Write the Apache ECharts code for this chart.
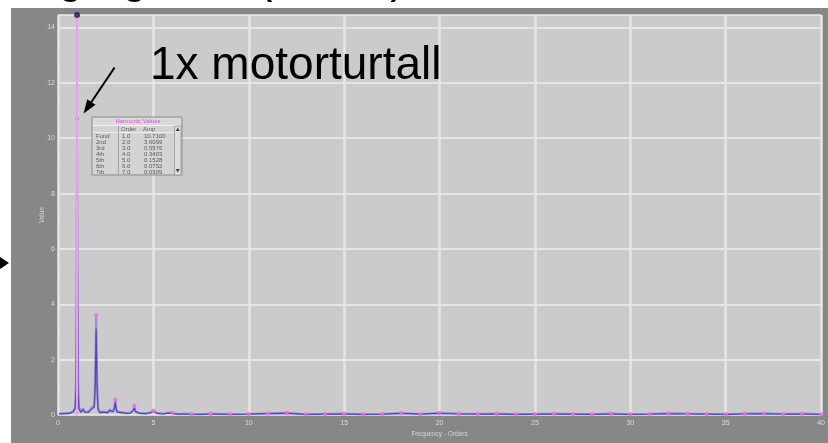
<!DOCTYPE html>
<html>
<head>
<meta charset="utf-8">
<script src="https://cdn.jsdelivr.net/npm/echarts@6/dist/echarts.min.js"></script>
<style>
  html, body { margin: 0; padding: 0; background: #ffffff; }
  #chart { width: 828px; height: 443px; }
</style>
</head>
<body>
<div id="chart"></div>
<script>
// ---- Harmonic table (orders and amplitudes shown in the "Harmonic Values" box) ----
const HARMONIC_NAMES = ['Fund', '2nd', '3rd', '4th', '5th', '6th', '7th'];
const HARMONIC_ORDERS = [1, 2, 3, 4, 5, 6, 7, 8, 9, 10, 11, 12, 13, 14, 15, 16, 17, 18, 19, 20,
  21, 22, 23, 24, 25, 26, 27, 28, 29, 30, 31, 32, 33, 34, 35, 36, 37, 38, 39, 40];
const HARMONIC_AMPS = [10.71, 3.6099, 0.5576, 0.3403, 0.1528, 0.0752, 0.0309, 0.05, 0.03, 0.04,
  0.06, 0.08, 0.03, 0.04, 0.05, 0.03, 0.04, 0.07, 0.04, 0.08,
  0.05, 0.04, 0.05, 0.03, 0.04, 0.05, 0.04, 0.03, 0.05, 0.03,
  0.04, 0.06, 0.05, 0.04, 0.03, 0.05, 0.06, 0.04, 0.05, 0.03];

// ---- Spectrum traces (frequency in orders) ----
const SPECTRUM_ORDERS = [0.05, 0.3, 0.6, 0.8, 0.9, 0.95, 1.0, 1.05, 1.1, 1.2,
  1.3, 1.4, 1.5, 1.6, 1.7, 1.8, 1.9, 1.95, 2.0, 2.05,
  2.1, 2.2, 2.4, 2.6, 2.7, 2.8, 2.9, 2.95, 3.0, 3.05,
  3.1, 3.2, 3.4, 3.6, 3.8, 3.9, 3.95, 4.0, 4.05, 4.1,
  4.3, 4.6, 4.8, 5.0, 5.2, 5.5, 5.8, 6.0, 6.3, 6.7,
  7.0, 7.5, 8.0, 9, 10, 11, 12, 13, 14, 15,
  16, 17, 18, 19, 20, 21, 22, 23, 24, 25,
  26, 27, 28, 29, 30, 31, 32, 33, 34, 35,
  36, 37, 38, 39, 40];
const SPECTRUM_UPPER = [0.05, 0.06, 0.07, 0.14, 0.3, 1.3, 9.4, 1.1, 0.28, 0.12,
  0.24, 0.13, 0.18, 0.12, 0.22, 0.16, 0.35, 1.4, 3.56, 1.2,
  0.25, 0.1, 0.13, 0.1, 0.2, 0.12, 0.14, 0.25, 0.56, 0.24,
  0.13, 0.08, 0.1, 0.07, 0.09, 0.12, 0.2, 0.34, 0.18, 0.1,
  0.07, 0.06, 0.09, 0.15, 0.07, 0.05, 0.09, 0.075, 0.04, 0.05,
  0.035, 0.03, 0.05, 0.03, 0.04, 0.06, 0.08, 0.03, 0.04, 0.05,
  0.03, 0.04, 0.07, 0.04, 0.08, 0.05, 0.04, 0.05, 0.03, 0.04,
  0.05, 0.04, 0.03, 0.05, 0.03, 0.04, 0.06, 0.05, 0.04, 0.03,
  0.05, 0.06, 0.04, 0.05, 0.03];
const SPECTRUM_LOWER = [0.04, 0.05, 0.06, 0.12, 0.25, 0.9, 8.0, 0.8, 0.22, 0.1,
  0.2, 0.11, 0.15, 0.1, 0.18, 0.13, 0.28, 1.0, 3.12, 0.9,
  0.2, 0.08, 0.11, 0.08, 0.17, 0.1, 0.12, 0.2, 0.46, 0.2,
  0.11, 0.07, 0.08, 0.06, 0.07, 0.1, 0.16, 0.26, 0.14, 0.08,
  0.06, 0.05, 0.07, 0.12, 0.06, 0.04, 0.07, 0.06, 0.035, 0.04,
  0.03, 0.025, 0.04, 0.025, 0.035, 0.05, 0.06, 0.025, 0.035, 0.04,
  0.025, 0.035, 0.06, 0.035, 0.06, 0.04, 0.035, 0.04, 0.025, 0.035,
  0.04, 0.035, 0.025, 0.04, 0.025, 0.035, 0.05, 0.04, 0.035, 0.025,
  0.04, 0.05, 0.035, 0.04, 0.025];

// ---- Axes ----
const X_MIN = 0, X_MAX = 40, X_STEP = 5;
const Y_MIN = 0, Y_MAX = 14.45, Y_STEP = 2;
const CURSOR_ORDER = 1;            // cursor placed on the 1x running speed

const TITLE_TEXT = 'Vibrasjonsmåling og vifte (aksial)';
const NOTE_TEXT = '1x motorturtall';

const FONT = '"Liberation Sans", Arial, sans-serif';

const chart = echarts.init(document.getElementById('chart'), null, { renderer: 'canvas' });

const pairs = (xs, ys) => xs.map((x, i) => [x, ys[i]]);

chart.setOption({
  animation: false,
  backgroundColor: '#878787',
  grid: {
    left: 58, right: 5, top: 15, bottom: 26,
    show: true, backgroundColor: '#cbcbcb', borderWidth: 0
  },
  xAxis: {
    type: 'value', min: X_MIN, max: X_MAX, interval: X_STEP,
    name: 'Frequency - Orders', nameLocation: 'middle', nameGap: 12,
    nameTextStyle: { color: '#d6d6d6', fontSize: 6.5, fontFamily: FONT },
    axisLine: { show: false },
    axisTick: { show: false },
    axisLabel: { color: '#dadada', fontSize: 7, fontFamily: FONT, margin: 4 },
    splitLine: { show: true, lineStyle: { color: '#e6e6e6', width: 2.5 } }
  },
  yAxis: {
    type: 'value', min: Y_MIN, max: Y_MAX, interval: Y_STEP,
    name: 'Value', nameLocation: 'middle', nameGap: 12, nameRotate: 90,
    nameMoveOverlap: false,
    nameTextStyle: { color: '#d6d6d6', fontSize: 6.5, fontFamily: FONT },
    axisLine: { show: false },
    axisTick: { show: true, inside: true, length: 3, lineStyle: { color: '#dedede' } },
    minorTick: { show: true, splitNumber: 5, length: 2, lineStyle: { color: '#dadada' } },
    axisLabel: {
      color: '#dadada', fontSize: 7, fontFamily: FONT, margin: 3,
      formatter: v => (Math.abs(v / Y_STEP - Math.round(v / Y_STEP)) < 1e-6 ? String(v) : '')
    },
    splitLine: { show: true, lineStyle: { color: '#eeeeee', width: 1.5 } }
  },
  series: [
    {
      // cursor line through the running-speed order
      type: 'scatter', name: 'cursor', data: [], z: 1, silent: true,
      markLine: {
        silent: true, symbol: ['none', 'none'], label: { show: false },
        lineStyle: { color: '#f39af2', width: 2, type: 'solid', opacity: 1 },
        data: [{ xAxis: CURSOR_ORDER }]
      }
    },
    {
      type: 'line', name: 'spektrum', data: pairs(SPECTRUM_ORDERS, SPECTRUM_UPPER),
      showSymbol: false, z: 2, silent: true,
      lineStyle: { color: '#8a82dc', width: 2.2, opacity: 0.8 }
    },
    {
      type: 'line', name: 'spektrum 2', data: pairs(SPECTRUM_ORDERS, SPECTRUM_LOWER),
      showSymbol: false, z: 3, silent: true,
      lineStyle: { color: '#4a3db2', width: 1.2, opacity: 0.9 }
    },
    {
      type: 'scatter', name: 'harmonics', data: pairs(HARMONIC_ORDERS, HARMONIC_AMPS),
      symbol: 'circle', symbolSize: 4.5, z: 4, silent: true,
      itemStyle: { color: '#f06cf0' }
    },
    {
      type: 'scatter', name: 'cursor head', data: [[CURSOR_ORDER, Y_MAX]],
      symbol: 'circle', symbolSize: 6, z: 5, silent: true, clip: false,
      itemStyle: { color: '#16165e' }
    }
  ]
});

// ---- Annotation graphics (arrow to the 1x peak, harmonic table, headline) ----
const fund = chart.convertToPixel({ gridIndex: 0 }, [HARMONIC_ORDERS[0], HARMONIC_AMPS[0]]);
const tip = [fund[0] + 6.5, fund[1] - 5];
const tail = [tip[0] + 31, tip[1] - 46];
const len = Math.hypot(tail[0] - tip[0], tail[1] - tip[1]);
const ux = (tip[0] - tail[0]) / len, uy = (tip[1] - tail[1]) / len;
const headLen = 14, headHalf = 5;
const base = [tip[0] - ux * headLen, tip[1] - uy * headLen];
const head = [tip, [base[0] + uy * headHalf, base[1] - ux * headHalf], [base[0] - uy * headHalf, base[1] + ux * headHalf]];

const tableFont = '6px ' + FONT;
const tableChildren = [
  { type: 'rect', shape: { x: 0, y: 0, width: 90, height: 58 }, style: { fill: '#d4d4d4', stroke: '#8c8c8c', lineWidth: 1 } },
  { type: 'rect', shape: { x: 1, y: 1, width: 88, height: 7 }, style: { fill: '#d9d9d9' } },
  { type: 'text', x: 46, y: 4.8, style: { text: 'Harmonic Values', fill: '#e24ee2', font: tableFont, align: 'center', verticalAlign: 'middle' } },
  { type: 'line', shape: { x1: 1, y1: 8.5, x2: 89, y2: 8.5 }, style: { stroke: '#f2f2f2', lineWidth: 1 } },
  { type: 'line', shape: { x1: 1, y1: 15.5, x2: 82, y2: 15.5 }, style: { stroke: '#ededed', lineWidth: 1 } },
  { type: 'line', shape: { x1: 26.5, y1: 9, x2: 26.5, y2: 58 }, style: { stroke: '#a6a6a6', lineWidth: 1 } },
  { type: 'rect', shape: { x: 82.5, y: 9, width: 6.5, height: 49 }, style: { fill: '#dcdcdc', stroke: '#9a9a9a', lineWidth: 0.8 } },
  { type: 'polygon', shape: { points: [[85.75, 10.5], [83.8, 14], [87.7, 14]] }, style: { fill: '#3c3c3c' } },
  { type: 'polygon', shape: { points: [[85.75, 55.5], [83.8, 52], [87.7, 52]] }, style: { fill: '#3c3c3c' } },
  { type: 'text', x: 29, y: 12.3, style: { text: 'Order', fill: '#5e5e5e', font: tableFont, verticalAlign: 'middle' } },
  { type: 'text', x: 51, y: 12.3, style: { text: 'Amp', fill: '#5e5e5e', font: tableFont, verticalAlign: 'middle' } }
];
HARMONIC_NAMES.forEach((name, i) => {
  const y = 19.5 + i * 5.9;
  tableChildren.push(
    { type: 'text', x: 4, y: y, style: { text: name, fill: '#5a5a5a', font: tableFont, verticalAlign: 'middle' } },
    { type: 'text', x: 30, y: y, style: { text: HARMONIC_ORDERS[i].toFixed(1), fill: '#5a5a5a', font: tableFont, verticalAlign: 'middle' } },
    { type: 'text', x: 52, y: y, style: { text: HARMONIC_AMPS[i].toFixed(4), fill: '#5a5a5a', font: tableFont, verticalAlign: 'middle' } }
  );
});

chart.setOption({
  graphic: [
    { type: 'rect', id: 'padLeft', z: 100, shape: { x: 0, y: 0, width: 11, height: 443 }, style: { fill: '#ffffff' } },
    { type: 'rect', id: 'padTop', z: 100, shape: { x: 0, y: 0, width: 828, height: 8 }, style: { fill: '#ffffff' } },
    { type: 'text', id: 'headline', z: 110, x: -266, y: -44,
      style: { text: TITLE_TEXT, fill: '#000000', font: '46px ' + FONT, verticalAlign: 'top' } },
    { type: 'polygon', id: 'sideArrow', z: 110, shape: { points: [[0, 257], [9, 263], [0, 269]] }, style: { fill: '#000000' } },
    { type: 'text', id: 'note', z: 110, x: 150, y: 43,
      style: { text: NOTE_TEXT, fill: '#000000', font: '46px ' + FONT, verticalAlign: 'top' } },
    { type: 'line', id: 'noteArrowLine', z: 110, shape: { x1: tail[0], y1: tail[1], x2: base[0], y2: base[1] }, style: { stroke: '#000000', lineWidth: 2 } },
    { type: 'polygon', id: 'noteArrowHead', z: 110, shape: { points: head }, style: { fill: '#000000' } },
    { type: 'group', id: 'harmonicTable', z: 100, x: 92, y: 117, children: tableChildren }
  ]
});
</script>
</body>
</html>
